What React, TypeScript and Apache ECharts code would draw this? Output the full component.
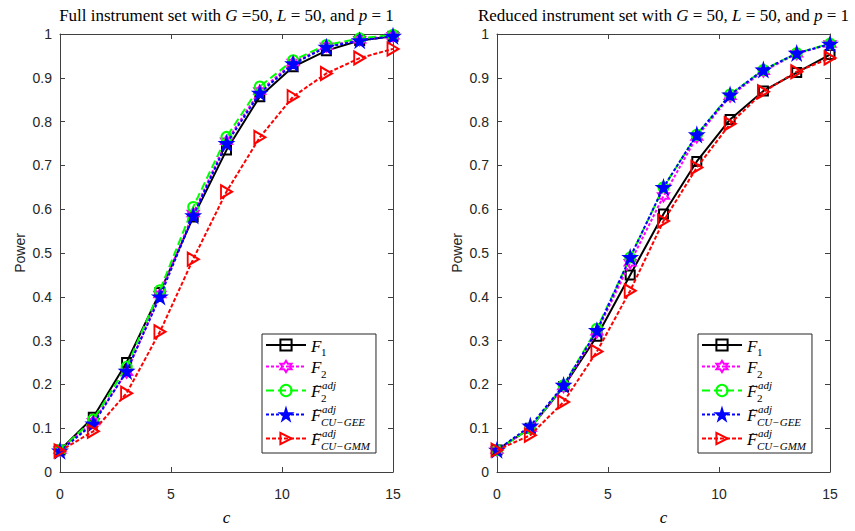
import React, { useEffect, useRef } from "react";
import * as echarts from "echarts";

// ---------- data ----------
const C_VALUES = [0, 1.5, 3, 4.5, 6, 7.5, 9, 10.5, 12, 13.5, 15];
const X_TICKS = [0, 5, 10, 15];
const Y_TICKS = [0, 0.1, 0.2, 0.3, 0.4, 0.5, 0.6, 0.7, 0.8, 0.9, 1];

const SERIES_NAMES = ["F1", "F2", "F2adj", "GEE", "GMM"];

// Full instrument set (left panel)
const FULL_F1 = [0.05, 0.125, 0.25, 0.41, 0.582, 0.735, 0.857, 0.925, 0.962, 0.985, 0.995];
const FULL_F2 = [0.05, 0.115, 0.228, 0.405, 0.59, 0.755, 0.87, 0.935, 0.972, 0.987, 0.996];
const FULL_F2ADJ = [0.05, 0.12, 0.24, 0.415, 0.605, 0.765, 0.88, 0.94, 0.975, 0.99, 0.998];
const FULL_GEE = [0.048, 0.11, 0.23, 0.4, 0.585, 0.75, 0.865, 0.932, 0.97, 0.985, 0.995];
const FULL_GMM = [0.048, 0.093, 0.18, 0.32, 0.486, 0.64, 0.764, 0.857, 0.91, 0.945, 0.966];

// Reduced instrument set (right panel)
const RED_F1 = [0.05, 0.1, 0.195, 0.31, 0.45, 0.589, 0.709, 0.805, 0.87, 0.912, 0.953];
const RED_F2 = [0.05, 0.1, 0.195, 0.32, 0.478, 0.63, 0.765, 0.858, 0.915, 0.955, 0.977];
const RED_F2ADJ = [0.05, 0.1, 0.198, 0.327, 0.49, 0.65, 0.77, 0.862, 0.918, 0.956, 0.978];
const RED_GEE = [0.05, 0.105, 0.198, 0.323, 0.49, 0.65, 0.77, 0.861, 0.918, 0.956, 0.977];
const RED_GMM = [0.05, 0.084, 0.16, 0.275, 0.414, 0.573, 0.695, 0.795, 0.868, 0.914, 0.945];

const PANELS = [
  { title: "full", data: [FULL_F1, FULL_F2, FULL_F2ADJ, FULL_GEE, FULL_GMM] },
  { title: "reduced", data: [RED_F1, RED_F2, RED_F2ADJ, RED_GEE, RED_GMM] },
];

// ---------- styles ----------
const SERIF = "'Liberation Serif', 'DejaVu Serif', serif";
const SANS = "'Liberation Sans', Arial, Helvetica, sans-serif";
const AXIS_COLOR = "#404040";
const LABEL_COLOR = "#262626";

const HEX =
  "path://M50,0 L35.55,24.97 L6.7,25 L21.1,50 L6.7,75 L35.55,75.03 L50,100 L64.45,75.03 L93.3,75 L78.9,50 L93.3,25 L64.45,24.97 Z";
const STAR =
  "path://M50,0 L38.77,34.55 L2.45,34.55 L31.83,55.9 L20.61,90.45 L50,69.1 L79.39,90.45 L68.17,55.9 L97.55,34.55 L61.23,34.55 Z";
const TRI = "path://M0,0 L100,50 L0,100 Z";

const SERIES_STYLE: Record<string, any> = {
  F1: { color: "#000000", type: "solid", symbol: "rect", size: 9, fill: "rgba(0,0,0,0)" },
  F2: { color: "#ff00ff", type: [3, 2], symbol: HEX, size: 11, fill: "rgba(0,0,0,0)" },
  F2adj: { color: "#00ff00", type: [8, 4], symbol: "circle", size: 10, fill: "rgba(0,0,0,0)" },
  GEE: { color: "#0000ff", type: [3, 2], symbol: STAR, size: 12, fill: "#0000ff" },
  GMM: { color: "#ff0000", type: [4, 2], symbol: TRI, size: [11, 13], fill: "rgba(0,0,0,0)" },
};

const LEGEND_TEXT: Record<string, string> = {
  F1: "{e| }\n{F|F}\n{ss| }{subn|1}",
  F2: "{e| }\n{F|F}\n{ss| }{subn|2}",
  F2adj: "{p| }{t|~}{sup|adj}\n{F|F}\n{ss| }{subn|2}",
  GEE: "{p| }{t|~}{sup|adj}\n{F|F}\n{ss| }{sub|CU\u2212GEE}",
  GMM: "{p| }{t|~}{sup|adj}\n{F|F}\n{ss| }{sub|CU\u2212GMM}",
};

const LEGEND_RICH = {
  e: { fontSize: 6, lineHeight: 6 },
  p: { fontSize: 6, lineHeight: 6, width: 4 },
  t: { fontFamily: SERIF, fontSize: 11, lineHeight: 6, width: 7, color: "#000" },
  sup: { fontFamily: SERIF, fontStyle: "italic", fontSize: 11, lineHeight: 6, color: "#000" },
  F: { fontFamily: SERIF, fontStyle: "italic", fontSize: 17, lineHeight: 8, color: "#000" },
  ss: { fontSize: 4, lineHeight: 4, width: 10 },
  subn: { fontFamily: SERIF, fontSize: 11, lineHeight: 2, color: "#000" },
  sub: { fontFamily: SERIF, fontStyle: "italic", fontSize: 11, lineHeight: 2, color: "#000" },
};

const TITLE_RICH = {
  n: { fontFamily: SERIF, fontSize: 17, fontWeight: "normal", color: "#000" },
  i: { fontFamily: SERIF, fontSize: 17, fontWeight: "normal", fontStyle: "italic", color: "#000" },
};

const TITLES = [
  "{n|Full instrument set with }{i|G}{n| =50, }{i|L}{n| = 50, and }{i|p}{n| = 1}",
  "{n|Reduced instrument set with }{i|G}{n| = 50, }{i|L}{n| = 50, and }{i|p}{n| = 1}",
];

const GRIDS = [
  { left: 60, top: 34, width: 333, height: 440 },
  { left: 497, top: 34, width: 333, height: 440 },
];

function yFmt(v: number) {
  if (v === 0) return "0";
  if (v === 1) return "1";
  return v.toFixed(1);
}

function buildOption() {
  const xMin = X_TICKS[0];
  const xMax = X_TICKS[X_TICKS.length - 1];
  const xInt = X_TICKS[1] - X_TICKS[0];
  const yMin = Y_TICKS[0];
  const yMax = Y_TICKS[Y_TICKS.length - 1];
  const yInt = 0.1;

  const xAxis: any[] = [];
  const yAxis: any[] = [];
  GRIDS.forEach((_, gi) => {
    const common = {
      gridIndex: gi,
      type: "value",
      splitLine: { show: false },
      axisLine: { show: true, onZero: false, lineStyle: { color: AXIS_COLOR, width: 1 } },
      axisTick: { show: true, inside: true, length: 5, lineStyle: { color: AXIS_COLOR } },
    };
    xAxis.push({
      ...common,
      position: "bottom",
      min: xMin,
      max: xMax,
      interval: xInt,
      name: "c",
      nameLocation: "middle",
      nameGap: 37,
      nameTextStyle: { fontFamily: SERIF, fontStyle: "italic", fontSize: 17, color: "#000" },
      axisLabel: { fontFamily: SANS, fontSize: 14, color: LABEL_COLOR, margin: 15 },
    });
    xAxis.push({
      ...common,
      position: "top",
      min: xMin,
      max: xMax,
      interval: xInt,
      axisLabel: { show: false },
    });
    yAxis.push({
      ...common,
      position: "left",
      min: yMin,
      max: yMax,
      interval: yInt,
      name: "Power",
      nameLocation: "middle",
      nameGap: 33,
      nameTextStyle: { fontFamily: SANS, fontSize: 14, color: LABEL_COLOR },
      axisLabel: { fontFamily: SANS, fontSize: 14, color: LABEL_COLOR, margin: 8, formatter: yFmt },
    });
    yAxis.push({
      ...common,
      position: "right",
      min: yMin,
      max: yMax,
      interval: yInt,
      axisLabel: { show: false },
    });
  });

  const series: any[] = [];
  PANELS.forEach((panel, gi) => {
    SERIES_NAMES.forEach((name, si) => {
      const st = SERIES_STYLE[name];
      series.push({
        type: "line",
        name,
        xAxisIndex: gi * 2,
        yAxisIndex: gi * 2,
        data: C_VALUES.map((c, k) => [c, panel.data[si][k]]),
        symbol: st.symbol,
        symbolSize: st.size,
        showAllSymbol: true,
        clip: false,
        lineStyle: { color: st.color, width: 2, type: st.type },
        itemStyle: { color: st.fill, borderColor: st.color, borderWidth: 2 },
        emphasis: { disabled: true },
        z: 2 + si,
      });
    });
  });

  const legendBase = {
    orient: "vertical",
    data: SERIES_NAMES,
    itemWidth: 40,
    itemHeight: 14,
    itemGap: 0,
    padding: [2, 6, 2, 3],
    backgroundColor: "#fff",
    borderColor: "#262626",
    borderWidth: 1,
    selectedMode: false,
    formatter: (n: string) => LEGEND_TEXT[n],
    textStyle: { fontFamily: SERIF, color: "#000", rich: LEGEND_RICH },
  };

  return {
    animation: false,
    backgroundColor: "#fff",
    title: TITLES.map((t, gi) => ({
      text: t,
      left: GRIDS[gi].left + GRIDS[gi].width / 2,
      top: 7,
      textAlign: "center",
      padding: 0,
      textStyle: { fontWeight: "normal", rich: TITLE_RICH },
    })),
    grid: GRIDS.map((g) => ({ ...g, containLabel: false })),
    xAxis,
    yAxis,
    legend: [
      { ...legendBase, left: 262, top: 334 },
      { ...legendBase, left: 698, top: 334 },
    ],
    series,
  };
}

export default function App() {
  const ref = useRef<HTMLDivElement>(null);
  useEffect(() => {
    if (!ref.current) return;
    const chart = echarts.init(ref.current, undefined, { renderer: "svg" });
    chart.setOption(buildOption() as any);
    return () => chart.dispose();
  }, []);
  return (
    <div
      ref={ref}
      style={{ position: "fixed", left: 0, top: 0, width: 855, height: 531, background: "#fff" }}
    />
  );
}
